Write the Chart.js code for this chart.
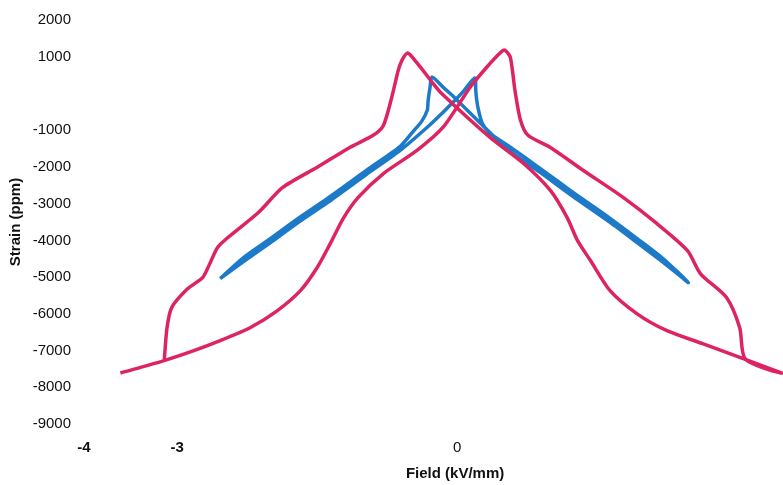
<!DOCTYPE html>
<html lang="en">
<head>
    <meta charset="UTF-8">
    <title>Strain vs Field</title>
    <script src="https://cdn.jsdelivr.net/npm/chart.js"></script>
    <style>
        body {
            margin: 0;
            background: #ffffff;
        }

        .chart-box {
            width: 783px;
            height: 485px;
        }
    </style>
</head>
<body>
    <div class="chart-box">
        <canvas id="strainChart" width="783" height="485"></canvas>
    </div>

    <script>
        // outer loop (kV/mm, ppm), traced as one continuous path
        const redField = [
            -3.61, -3.15, -2.83, -2.54, -2.22, -1.93, -1.68, -1.50, -1.36, -1.22, -1.06, -0.79, -0.43, -0.15,
            0.14, 0.32, 0.46, 0.51, 0.57, 0.62, 0.68, 0.76, 1.00, 1.35, 1.78, 2.14, 2.47, 2.61, 2.89, 3.03, 3.09, 3.48,
            2.64, 2.25, 1.93, 1.64, 1.43, 1.29, 1.18, 1.00, 0.71, 0.35,
            -0.18, -0.26, -0.43, -0.53, -0.59, -0.63, -0.70, -0.79, -0.90, -1.15, -1.50, -1.87, -2.13, -2.47,
            -2.57, -2.67, -2.73, -2.89, -3.06, -3.11, -3.14
        ];
        const redStrain = [
            -7610, -7280, -7010, -6730, -6380, -5920, -5370, -4740, -4090, -3400, -2830, -2180, -1550, -920,
            170, 720, 1100, 1180, 990, 90, -730, -1140, -1470, -2090, -2830, -3540, -4280, -4910, -5560, -6380, -7230, -7610,
            -6820, -6460, -6000, -5370, -4550, -4000, -3380, -2640, -1900, -1190,
            35, 280, 830, 1100, 910, 640, -100, -870, -1140, -1470, -2010, -2560, -3240, -3950,
            -4200, -4740, -5020, -5320, -5830, -6380, -7280
        ];

        // inner loop
        const blueField = [
            -2.54, -2.29, -2.00, -1.72, -1.39, -0.97, -0.61, -0.47, -0.38, -0.32, -0.31, -0.29, -0.27,
            -0.15, -0.02, 0.11, 0.25,
            0.54, 0.89, 1.24, 1.64, 1.93, 2.21, 2.48,
            2.21, 1.93, 1.64, 1.24, 0.89, 0.54, 0.35, 0.27, 0.23, 0.21, 0.20, 0.19,
            0.06, -0.02, -0.15, -0.32,
            -0.61, -0.97, -1.39, -1.72, -2.00, -2.29, -2.54
        ];
        const blueStrain = [
            -5040, -4470, -3950, -3430, -2860, -2090, -1440, -1030, -760, -460, -180, 170, 450,
            170, -130, -460, -810,
            -1520, -2150, -2800, -3510, -4060, -4600, -5150,
            -4500, -3950, -3400, -2690, -2040, -1410, -1080, -810, -460, -180, 90, 420,
            35, -180, -510, -920,
            -1550, -2200, -2970, -3540, -4060, -4580, -5040
        ];

        const xTickLabels = [-4, -3, 0];
        const yHiddenTicks = [0];

        const fontFamily = "'Liberation Sans', Arial, sans-serif";

        function toPoints(xs, ys) {
            return xs.map((x, i) => ({ x: x, y: ys[i] }));
        }

        // x axis title sits under the zero tick rather than mid-plot
        const fieldTitle = {
            id: 'fieldTitle',
            afterDraw(chart) {
                const ctx = chart.ctx;
                const x0 = chart.scales.x.getPixelForValue(0);
                ctx.save();
                ctx.font = 'bold 15px ' + fontFamily;
                ctx.fillStyle = '#111111';
                ctx.textAlign = 'center';
                ctx.textBaseline = 'middle';
                ctx.fillText('Field (kV/mm)', x0 - 2, 474);
                ctx.restore();
            }
        };

        new Chart(document.getElementById('strainChart'), {
            type: 'scatter',
            data: {
                datasets: [{
                    label: 'outer',
                    data: toPoints(redField, redStrain),
                    showLine: true,
                    borderColor: '#de2460',
                    borderWidth: 3.5,
                    pointRadius: 0,
                    tension: 0.25
                }, {
                    label: 'inner',
                    data: toPoints(blueField, blueStrain),
                    showLine: true,
                    borderColor: '#1d7ac8',
                    borderWidth: 3.5,
                    pointRadius: 0,
                    tension: 0.25
                }]
            },
            plugins: [fieldTitle],
            options: {
                responsive: false,
                animation: false,
                layout: {
                    padding: { top: 20, right: 0, bottom: 0, left: 0 }
                },
                plugins: {
                    legend: { display: false },
                    tooltip: { enabled: false }
                },
                scales: {
                    x: {
                        type: 'linear',
                        min: -4,
                        max: 3.494,
                        grid: { display: false },
                        border: { display: false },
                        afterFit(scale) { scale.height = 61; },
                        afterBuildTicks(scale) {
                            scale.ticks = xTickLabels.map(v => ({ value: v }));
                        },
                        ticks: {
                            autoSkip: false,
                            maxRotation: 0,
                            padding: 7,
                            color: '#111111',
                            font: ctx => ({
                                family: fontFamily,
                                size: 15,
                                weight: ctx.tick && ctx.tick.value === 0 ? 'normal' : 'bold'
                            }),
                            callback: v => String(v)
                        }
                    },
                    y: {
                        min: -9000,
                        max: 2000,
                        grid: { display: false },
                        border: { display: false },
                        afterFit(scale) { scale.width = 84; },
                        ticks: {
                            stepSize: 1000,
                            padding: 5,
                            color: '#111111',
                            font: { family: fontFamily, size: 15 },
                            callback: v => yHiddenTicks.includes(v) ? '' : String(v)
                        },
                        title: {
                            display: true,
                            text: 'Strain (ppm)',
                            color: '#111111',
                            padding: { top: 7, bottom: 0 },
                            font: { family: fontFamily, size: 15, weight: 'bold' }
                        }
                    }
                }
            }
        });
    </script>
</body>
</html>
